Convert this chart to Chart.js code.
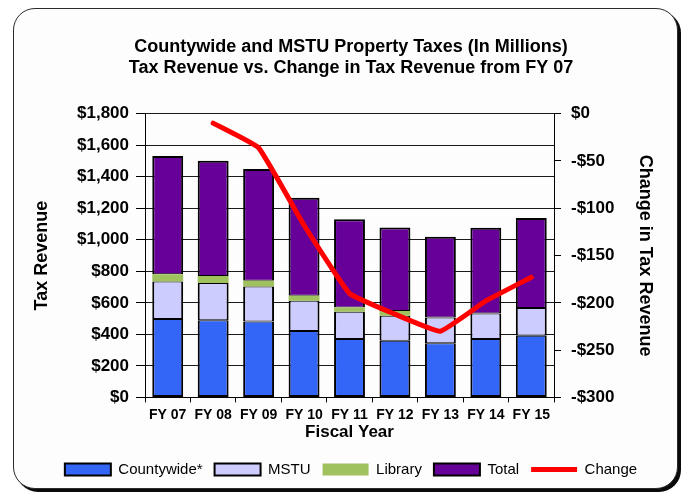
<!DOCTYPE html>
<html>
<head>
<meta charset="utf-8">
<script src="https://cdn.jsdelivr.net/npm/chart.js@4/dist/chart.umd.min.js"></script>
<style>
  html, body { margin: 0; padding: 0; background: #ffffff; }
  #wrap { width: 686px; height: 497px; position: relative; overflow: hidden; }
  #frame {
    position: absolute; left: 13px; top: 8px; width: 663px; height: 479px;
    border: 1.5px solid #2a2a2a; border-radius: 22px; background: #fdfdfd;
    box-shadow: 3px 3px 0 #0a0a0a;
  }
  #c { position: absolute; left: 0; top: 0; }
</style>
</head>
<body>
<div id="wrap"><div id="frame"></div><canvas id="c" width="686" height="497"></canvas></div>
<script>
// Fiscal years shown on the category axis
const fiscalYears = ['FY 07', 'FY 08', 'FY 09', 'FY 10', 'FY 11', 'FY 12', 'FY 13', 'FY 14', 'FY 15'];

// Stacked revenue components (millions of dollars)
const countywide = [497, 490, 482, 422, 370, 359, 344, 370, 391];
const mstu       = [239, 236, 222, 191, 173, 159, 163, 163, 176];
const library    = [45, 44, 36, 32, 28, 30, 0, 0, 0];
const total      = [751, 732, 709, 622, 560, 530, 513, 543, 572];

// Change in revenue relative to FY 07 (millions), right axis
const change = [null, -10, -36, -118, -190, -212, -230, -198, -173];

// Axis tick values
const leftTicks = [0, 200, 400, 600, 800, 1000, 1200, 1400, 1600, 1800];
const rightTicks = [-300, -250, -200, -150, -100, -50, 0];

const FONT = "'Liberation Sans', Arial, sans-serif";

function money(v) {
  const neg = v < 0;
  const s = Math.abs(v).toLocaleString('en-US');
  return (neg ? '-$' : '$') + s;
}

// Shared bar styling; inner edges use 1px so stacked segments meet in a single 2px outline
const barBase = {
  type: 'bar',
  stack: 'rev',
  yAxisID: 'y',
  order: 1,
  borderColor: '#000000',
  borderWidth: { top: 1, bottom: 1, left: 2, right: 2 },
  borderSkipped: false,
  barPercentage: 0.68,
  categoryPercentage: 1.0
};

new Chart(document.getElementById('c'), {
  data: {
    labels: fiscalYears,
    datasets: [
      Object.assign({}, barBase, { label: 'Countywide*', data: countywide, backgroundColor: '#3366f6', borderWidth: { top: 1, bottom: 2, left: 2, right: 2 } }),
      Object.assign({}, barBase, { label: 'MSTU', data: mstu, backgroundColor: '#ccccff' }),
      Object.assign({}, barBase, { label: 'Library', data: library, backgroundColor: '#9fc15e', borderWidth: 0, borderColor: '#9fc15e' }),
      Object.assign({}, barBase, { label: 'Total', data: total, backgroundColor: '#660099', borderWidth: { top: 2, bottom: 1, left: 2, right: 2 } }),
      {
        type: 'line',
        label: 'Change',
        data: change,
        yAxisID: 'y1',
        order: 0,
        borderColor: '#ff0000',
        backgroundColor: '#ff0000',
        borderWidth: 5,
        pointRadius: 0,
        tension: 0.1,
        borderJoinStyle: 'round',
        borderCapStyle: 'round',
        spanGaps: false,
        fill: false
      }
    ]
  },
  options: {
    responsive: false,
    animation: false,
    layout: { padding: { top: 12, left: 16, right: 0, bottom: 10 } },
    plugins: {
      tooltip: { enabled: false },
      title: {
        display: true,
        text: ['Countywide and MSTU Property Taxes (In Millions)', 'Tax Revenue vs. Change in Tax Revenue from FY 07'],
        color: '#000000',
        font: { family: FONT, size: 18, weight: 'bold', lineHeight: 1.2 },
        padding: { top: 24, bottom: 34.5 }
      },
      legend: {
        position: 'bottom',
        sort: (a, b) => a.datasetIndex - b.datasetIndex,
        labels: {
          color: '#000000',
          font: { family: FONT, size: 15 },
          usePointStyle: true,
          pointStyleWidth: 46,
          boxHeight: 12,
          padding: 12,
          generateLabels(chart) {
            return chart.data.datasets.map((ds, i) => {
              const isLine = ds.type === 'line';
              const isLib = ds.label === 'Library';
              return {
                text: ds.label,
                datasetIndex: i,
                fillStyle: ds.backgroundColor,
                strokeStyle: isLine ? ds.borderColor : (isLib ? ds.backgroundColor : '#000000'),
                lineWidth: isLine ? 5 : (isLib ? 0 : 2),
                pointStyle: isLine ? 'line' : 'rect',
                fontColor: '#000000',
                hidden: false
              };
            });
          }
        }
      }
    },
    scales: {
      x: {
        stacked: true,
        afterFit(scale) { scale.height = 52.6; },
        grid: { display: true, drawOnChartArea: false, drawTicks: true, tickLength: 5, color: '#000000', offset: true },
        border: { display: true, color: '#000000', width: 1 },
        ticks: { color: '#000000', padding: 4, font: { family: FONT, size: 14, weight: 'bold' }, maxRotation: 0 },
        title: {
          display: true,
          text: 'Fiscal Year',
          color: '#000000',
          font: { family: FONT, size: 17, weight: 'bold' },
          padding: { top: 0, bottom: 7 }
        }
      },
      y: {
        stacked: true,
        position: 'left',
        min: 0,
        max: 1800,
        afterFit(scale) { scale.width = 129; },
        afterBuildTicks(scale) { scale.ticks = leftTicks.map(v => ({ value: v })); },
        grid: { display: true, drawOnChartArea: true, color: '#1a1a1a', lineWidth: 1, drawTicks: true, tickLength: 9, tickColor: '#000000' },
        border: { display: true, color: '#000000', width: 1 },
        ticks: {
          color: '#000000',
          padding: 7,
          font: { family: FONT, size: 17, weight: 'bold' },
          callback: v => money(v)
        },
        title: {
          display: true,
          text: 'Tax Revenue',
          color: '#000000',
          font: { family: FONT, size: 18, weight: 'bold' },
          padding: { top: 15, bottom: 0 }
        }
      },
      y1: {
        position: 'right',
        min: -300,
        max: 0,
        afterFit(scale) { scale.width = 132; },
        afterBuildTicks(scale) { scale.ticks = rightTicks.map(v => ({ value: v })); },
        grid: { drawOnChartArea: false, drawTicks: true, tickLength: 7, color: '#000000' },
        border: { display: true, color: '#000000', width: 1 },
        ticks: {
          color: '#000000',
          padding: 10,
          font: { family: FONT, size: 17, weight: 'bold' },
          callback: v => money(v)
        },
        title: {
          display: true,
          text: 'Change in Tax Revenue',
          color: '#000000',
          font: { family: FONT, size: 18, weight: 'bold' },
          padding: { top: 30, bottom: 0 }
        }
      }
    }
  }
});
</script>
</body>
</html>
